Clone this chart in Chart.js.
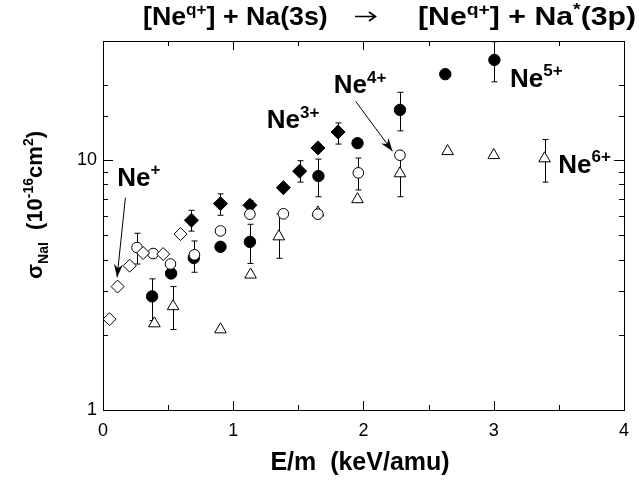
<!DOCTYPE html>
<html>
<head>
<meta charset="utf-8">
<script src="https://cdn.jsdelivr.net/npm/chart.js@4.4.0/dist/chart.umd.min.js"></script>
<style>
  html, body { margin: 0; padding: 0; background: #fff; }
  canvas { display: block; }
</style>
</head>
<body>
<canvas id="chart" width="639" height="480"></canvas>
<script>
// Ne+ (open diamonds)
const nePlusX = [0.05, 0.112, 0.205, 0.308, 0.462, 0.595];
const nePlusY = [2.31, 3.12, 3.78, 4.25, 4.21, 5.06];

// Ne3+ (filled diamonds)
const ne3X = [0.679, 0.902, 1.128, 1.385, 1.51, 1.65, 1.805];
const ne3Y = [5.75, 6.70, 6.6, 7.76, 9.04, 11.2, 12.97];
const ne3Lo = [5.20, 6.02, 6.3, null, 8.17, null, 11.6];
const ne3Hi = [6.30, 7.33, 6.9, null, 9.95, null, 14.1];

// filled circles
const ne5X = [0.377, 0.523, 0.697, 0.902, 1.128, 1.654, 1.954, 2.28, 2.628, 3.005];
const ne5Y = [2.85, 3.52, 4.06, 4.5, 4.71, 8.64, 11.7, 15.9, 22.1, 25.2];
const ne5Lo = [2.28, null, 3.56, null, 3.86, 7.14, null, 13.1, null, 20.6];
const ne5Hi = [3.35, null, 4.75, null, 5.54, 10.1, null, 18.7, null, 29.8];

// open circles
const ne4X = [0.261, 0.385, 0.518, 0.702, 0.902, 1.128, 1.385, 1.65, 1.96, 2.28];
const ne4Y = [4.47, 4.23, 3.84, 4.18, 5.21, 6.08, 6.1, 6.08, 8.9, 10.47];
const ne4Lo = [3.84, null, null, null, null, null, null, null, 7.6, null];
const ne4Hi = [5.10, null, null, null, null, null, null, null, 10.2, null];

// Ne6+ (open triangles)
const ne6X = [0.395, 0.538, 0.902, 1.133, 1.35, 1.65, 1.954, 2.28, 2.646, 3.0, 3.39];
const ne6Y = [2.22, 2.60, 2.10, 3.48, 4.95, 6.17, 6.97, 8.85, 10.86, 10.47, 10.16];
const ne6Lo = [null, 2.10, null, null, 4.05, null, null, 7.14, null, null, 8.17];
const ne6Hi = [null, 3.12, null, null, 6.1, null, null, 10.1, null, null, 12.1];

const xTickLabels = [0, 1, 2, 3, 4];
const yTickLabels = [1, 10];

const FONT = "'Liberation Sans', Arial, Helvetica, sans-serif";

// label text pieces + anchor in data units
const labels = [
  { x: 0.11, y: 7.87, parts: [['Ne', 'n'], ['+', 'sup']] },
  { x: 1.257, y: 13.4, parts: [['Ne', 'n'], ['3+', 'sup']] },
  { x: 1.772, y: 18.5, parts: [['Ne', 'n'], ['4+', 'sup']] },
  { x: 3.125, y: 19.7, parts: [['Ne', 'n'], ['5+', 'sup']] },
  { x: 3.495, y: 8.88, parts: [['Ne', 'n'], ['6+', 'sup']] },
];
const arrows = [
  { x1: 0.172, y1: 7.08, x2: 0.108, y2: 3.40 },
  { x1: 1.94, y1: 17.2, x2: 2.223, y2: 10.86 },
];

function pts(xs, ys) {
  return xs.map((x, i) => ({ x: x, y: ys[i] }));
}

// draws normal / sup / sub pieces one after another, sx stretches horizontally
function drawRich(ctx, parts, x, y, size, sx) {
  sx = sx || 1;
  ctx.save();
  ctx.translate(x, y);
  ctx.scale(sx, 1);
  let cx = 0;
  for (const [t, k] of parts) {
    const s = k === 'n' ? size : Math.round(size * 0.64);
    ctx.font = 'bold ' + s + 'px ' + FONT;
    const dy = k === 'sup' ? -size * 0.42 : (k === 'sub' ? size * 0.25 : 0);
    ctx.fillText(t, cx, dy);
    cx += ctx.measureText(t).width;
  }
  ctx.restore();
  return cx * sx;
}

function richWidth(ctx, parts, size) {
  let w = 0;
  for (const [t, k] of parts) {
    const s = k === 'n' ? size : Math.round(size * 0.64);
    ctx.font = 'bold ' + s + 'px ' + FONT;
    w += ctx.measureText(t).width;
  }
  return w;
}

const decor = {
  id: 'decor',
  beforeDatasetsDraw(chart) {
    const ctx = chart.ctx, xs = chart.scales.x, ys = chart.scales.y;
    ctx.save();
    ctx.strokeStyle = '#000';
    ctx.lineWidth = 1;
    chart.data.datasets.forEach(ds => {
      if (!ds.errLo) return;
      ds.data.forEach((p, i) => {
        if (ds.errLo[i] == null) return;
        const px = Math.round(xs.getPixelForValue(p.x)) + 0.5;
        const lo = ys.getPixelForValue(ds.errLo[i]);
        const hi = ys.getPixelForValue(ds.errHi[i]);
        ctx.beginPath();
        ctx.moveTo(px, lo); ctx.lineTo(px, hi);
        ctx.moveTo(px - 3, lo); ctx.lineTo(px + 3, lo);
        ctx.moveTo(px - 3, hi); ctx.lineTo(px + 3, hi);
        ctx.stroke();
      });
    });
    ctx.restore();
  },
  afterDraw(chart) {
    const ctx = chart.ctx, a = chart.chartArea;
    const xs = chart.scales.x, ys = chart.scales.y;
    ctx.save();
    ctx.strokeStyle = '#000';
    ctx.fillStyle = '#000';
    ctx.lineWidth = 1;
    // frame
    ctx.strokeRect(a.left + 0.5, a.top + 0.5, a.right - a.left, a.bottom - a.top);
    // x ticks (bottom and top, inward)
    ctx.beginPath();
    xs.ticks.forEach(t => {
      const px = Math.round(xs.getPixelForValue(t.value)) + 0.5;
      const len = Number.isInteger(t.value) ? 9 : 5;
      ctx.moveTo(px, a.bottom); ctx.lineTo(px, a.bottom - len);
      ctx.moveTo(px, a.top); ctx.lineTo(px, a.top + len);
    });
    // y ticks (left and right, inward)
    ys.ticks.forEach(t => {
      const py = Math.round(ys.getPixelForValue(t.value)) + 0.5;
      const len = yTickLabels.includes(t.value) ? 10 : 5;
      ctx.moveTo(a.left, py); ctx.lineTo(a.left + len, py);
      ctx.moveTo(a.right, py); ctx.lineTo(a.right - len, py);
    });
    ctx.stroke();

    // arrows
    arrows.forEach(ar => {
      const x1 = xs.getPixelForValue(ar.x1), y1 = ys.getPixelForValue(ar.y1);
      const x2 = xs.getPixelForValue(ar.x2), y2 = ys.getPixelForValue(ar.y2);
      const ang = Math.atan2(y2 - y1, x2 - x1);
      ctx.beginPath();
      ctx.moveTo(x1, y1); ctx.lineTo(x2, y2);
      ctx.stroke();
      ctx.beginPath();
      ctx.moveTo(x2, y2);
      ctx.lineTo(x2 - 13 * Math.cos(ang) + 4.5 * Math.sin(ang), y2 - 13 * Math.sin(ang) - 4.5 * Math.cos(ang));
      ctx.lineTo(x2 - 9 * Math.cos(ang), y2 - 9 * Math.sin(ang));
      ctx.lineTo(x2 - 13 * Math.cos(ang) - 4.5 * Math.sin(ang), y2 - 13 * Math.sin(ang) + 4.5 * Math.cos(ang));
      ctx.closePath();
      ctx.fill();
    });

    // series labels
    ctx.textBaseline = 'alphabetic';
    ctx.textAlign = 'left';
    labels.forEach(l => {
      drawRich(ctx, l.parts, xs.getPixelForValue(l.x), ys.getPixelForValue(l.y), 26);
    });

    // title
    drawRich(ctx, [['[Ne', 'n'], ['q+', 'sup'], ['] + Na(3s)', 'n']], 143, 25, 25, 1.07);
    ctx.lineWidth = 1.6;
    ctx.beginPath();
    ctx.moveTo(355, 16.5); ctx.lineTo(375, 16.5);
    ctx.moveTo(369, 12); ctx.lineTo(375.5, 16.5); ctx.lineTo(369, 21);
    ctx.stroke();
    ctx.lineWidth = 1;
    drawRich(ctx, [['[Ne', 'n'], ['q+', 'sup'], ['] + Na', 'n'], ['*', 'sup'], ['(3p)', 'n']], 418, 25, 25, 1.21);

    // x axis title
    ctx.font = 'bold 25px ' + FONT;
    ctx.textAlign = 'center';
    ctx.fillText('E/m  (keV/amu)', 360, 470);

    // y axis title
    ctx.textAlign = 'left';
    const yParts = [['\u03c3', 'n'], ['NaI', 'sub'], ['  (10', 'n'], ['-16', 'sup'], ['cm', 'n'], ['2', 'sup'], [')', 'n']];
    const w = richWidth(ctx, yParts, 22);
    ctx.translate(42, 205);
    ctx.rotate(-Math.PI / 2);
    drawRich(ctx, yParts, -w / 2, 0, 22);
    ctx.restore();
  }
};

const ctx = document.getElementById('chart').getContext('2d');
new Chart(ctx, {
  type: 'scatter',
  data: {
    datasets: [
      { label: 'Ne+', data: pts(nePlusX, nePlusY), pointStyle: 'rectRot', radius: 6.5,
        backgroundColor: '#fff', borderColor: '#000', borderWidth: 1 },
      { label: 'open circles', data: pts(ne4X, ne4Y), errLo: ne4Lo, errHi: ne4Hi, pointStyle: 'circle', radius: 5.3,
        backgroundColor: '#fff', borderColor: '#000', borderWidth: 1 },
      { label: 'Ne6+', data: pts(ne6X, ne6Y), errLo: ne6Lo, errHi: ne6Hi, pointStyle: 'triangle', radius: 6.7,
        backgroundColor: '#fff', borderColor: '#000', borderWidth: 1 },
      { label: 'filled circles', data: pts(ne5X, ne5Y), errLo: ne5Lo, errHi: ne5Hi, pointStyle: 'circle', radius: 5.7,
        backgroundColor: '#000', borderColor: '#000', borderWidth: 1 },
      { label: 'Ne3+', data: pts(ne3X, ne3Y), errLo: ne3Lo, errHi: ne3Hi, pointStyle: 'rectRot', radius: 7,
        backgroundColor: '#000', borderColor: '#000', borderWidth: 1 },
    ]
  },
  options: {
    responsive: false,
    animation: false,
    layout: { padding: { top: 41, right: 15, left: 0, bottom: 0 } },
    plugins: { legend: { display: false }, tooltip: { enabled: false } },
    scales: {
      x: {
        type: 'linear', min: 0, max: 4,
        grid: { display: false, drawTicks: false },
        border: { display: false },
        ticks: {
          stepSize: 0.5, autoSkip: false, maxRotation: 0, padding: 10,
          color: '#000', font: { family: FONT, size: 18 },
          callback: v => xTickLabels.includes(v) ? String(v) : ''
        },
        afterFit: s => { s.height = 70; }
      },
      y: {
        type: 'logarithmic', min: 1, max: 30,
        grid: { display: false, drawTicks: false },
        border: { display: false },
        ticks: {
          autoSkip: false, padding: 6,
          color: '#000', font: { family: FONT, size: 18 },
          callback: v => yTickLabels.includes(v) ? String(v) : ''
        },
        afterFit: s => { s.width = 103; }
      }
    }
  },
  plugins: [decor]
});
</script>
</body>
</html>
